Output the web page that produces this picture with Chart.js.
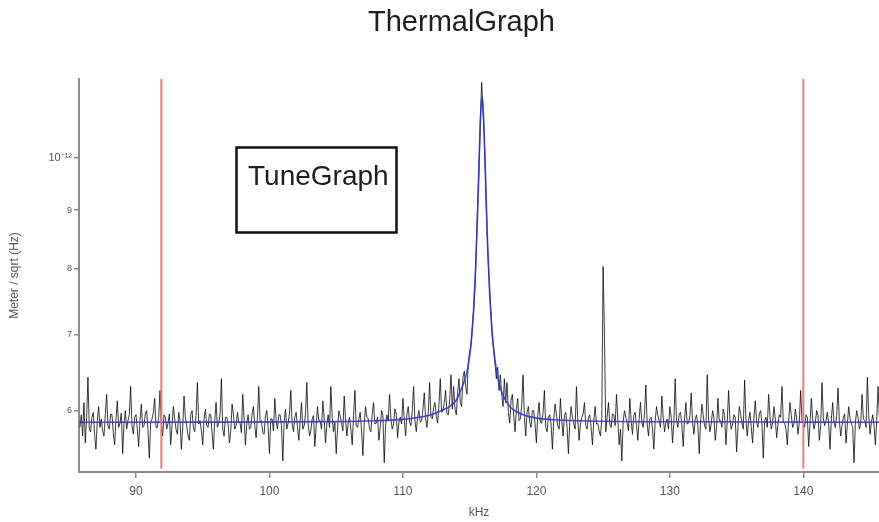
<!DOCTYPE html>
<html><head><meta charset="utf-8">
<script src="https://cdn.jsdelivr.net/npm/chart.js@4/dist/chart.umd.min.js"></script>
<style>html,body{margin:0;padding:0;background:#fff;}canvas{display:block;}</style>
</head><body>
<canvas id="c" width="879" height="522"></canvas>
<script>
const chartTitle = 'ThermalGraph';
const boxLabel = 'TuneGraph';
const xTitle = 'kHz';
const yTitle = 'Meter / sqrt (Hz)';
const xRange = [85.73, 145.67];
const yRange = [5.335e-13, 1.173e-12];
const xTickValues = [90, 100, 110, 120, 130, 140];
const yTickValues = [6e-13, 7e-13, 8e-13, 9e-13, 1e-12];
const yTickLabels = ['6', '7', '8', '9', '10\u207B\u00B9\u00B2'];
const markerFreqs = [91.9, 140];
const freqStart = 85.8, freqStep = 0.1;   // kHz grid of the measured spectrum
const unitScale = 1e-13;                  // values below are in units of 1e-13 m/sqrt(Hz)
const spectrumE13 = [
  5.80, 5.95, 5.70, 6.10, 5.62, 5.90, 6.42, 5.78, 5.75, 5.92, 5.98, 5.72, 5.55, 5.88, 6.05, 5.80, 5.90, 5.76, 5.70, 5.95,
  6.20, 5.82, 5.78, 5.96, 5.95, 5.74, 5.60, 5.90, 6.12, 5.80, 5.85, 5.97, 5.50, 5.84, 6.00, 5.78, 5.88, 5.95, 6.30, 5.82,
  5.72, 5.92, 5.95, 5.78, 5.58, 5.88, 6.08, 5.80, 5.82, 5.96, 6.00, 5.76, 5.45, 5.86, 5.90, 5.98, 6.15, 5.80, 5.80, 5.92,
  6.25, 5.84, 5.70, 5.95, 5.92, 5.78, 5.85, 5.96, 5.60, 5.82, 6.05, 5.90, 5.78, 5.72, 5.98, 5.88, 5.55, 5.80, 6.18, 5.92,
  5.82, 5.70, 5.65, 5.95, 6.00, 5.80, 5.75, 5.94, 6.35, 5.84, 5.88, 5.76, 5.60, 5.90, 6.02, 5.82, 5.80, 5.96, 5.95, 5.74,
  5.55, 5.88, 6.10, 5.80, 5.85, 5.96, 6.40, 5.78, 5.70, 5.92, 5.92, 5.84, 5.62, 5.76, 6.08, 5.95, 5.78, 5.82, 5.98, 5.86,
  5.85, 5.74, 6.20, 5.90, 5.60, 5.84, 5.95, 5.78, 5.80, 5.96, 6.05, 5.82, 5.68, 5.92, 6.30, 5.86, 5.88, 5.74, 5.72, 5.94,
  6.00, 5.80, 5.50, 5.90, 5.90, 5.76, 6.15, 5.88, 5.78, 5.95, 5.95, 5.82, 5.42, 5.86, 6.02, 5.78, 5.85, 5.96, 6.25, 5.84,
  5.75, 5.92, 5.98, 5.80, 5.65, 5.88, 6.10, 5.78, 5.82, 5.96, 6.35, 5.84, 5.70, 5.76, 5.90, 5.94, 5.58, 5.82, 6.05, 5.88,
  5.88, 5.78, 6.12, 5.90, 5.62, 5.84, 5.95, 5.80, 6.30, 5.92, 5.75, 5.86, 5.50, 5.78, 6.00, 5.94, 5.85, 5.76, 6.18, 5.90,
  5.70, 5.86, 5.92, 5.78, 5.60, 5.94, 6.25, 5.82, 5.80, 5.90, 5.98, 5.76, 5.48, 5.84, 6.05, 5.92, 5.90, 5.78, 5.75, 5.96,
  6.10, 5.84, 5.85, 5.92, 5.65, 5.80, 6.00, 5.94, 5.40, 5.82, 5.95, 5.88, 6.20, 5.90, 5.78, 5.84, 6.02, 5.96, 5.68, 5.86,
  5.92, 5.84, 6.15, 5.90, 5.70, 5.96, 6.05, 5.86, 5.82, 6.00, 6.30, 5.88, 5.75, 5.92, 6.00, 5.86, 5.88, 6.02, 6.22, 5.90,
  5.80, 5.98, 6.35, 5.92, 5.90, 6.04, 6.10, 5.94, 5.85, 6.08, 6.40, 5.98, 6.00, 6.10, 6.25, 5.96, 5.95, 6.12, 6.45, 6.02,
  6.30, 6.02, 5.95, 6.22, 6.40, 6.10, 6.05, 6.42, 6.50, 6.30, 6.20, 6.62, 6.75, 6.85, 7.10, 7.35, 7.70, 8.35, 9.10, 9.80,
  10.8, 11.65, 11.0, 10.4, 9.50, 8.65, 8.05, 7.65, 7.30, 6.95, 6.80, 6.60, 6.40, 6.55, 6.25, 6.45, 6.20, 6.05, 6.40, 6.10,
  6.35, 5.98, 5.85, 6.12, 6.20, 5.94, 5.75, 6.02, 6.15, 5.88, 5.90, 6.06, 6.45, 5.92, 5.70, 5.98, 6.05, 5.86, 5.80, 6.00,
  6.00, 5.84, 5.62, 5.94, 6.10, 5.86, 5.85, 5.98, 6.25, 5.80, 5.75, 5.92, 5.95, 5.84, 5.55, 5.90, 6.08, 5.96, 5.82, 5.78,
  6.15, 5.88, 5.70, 5.94, 5.98, 5.80, 5.50, 5.86, 6.05, 5.92, 5.85, 5.78, 6.30, 5.90, 5.65, 5.84, 5.92, 5.96, 6.10, 5.82,
  5.78, 5.92, 5.95, 5.80, 5.60, 5.88, 6.05, 5.84, 5.85, 5.76, 5.70, 5.90, 8.03, 7.00, 5.75, 5.92, 6.10, 5.84, 5.80, 5.96,
  5.95, 5.82, 6.20, 5.90, 5.60, 5.78, 5.42, 5.86, 6.00, 5.92, 5.85, 5.76, 6.15, 5.88, 5.72, 5.94, 5.98, 5.82, 5.65, 5.90,
  6.10, 5.86, 5.80, 5.96, 6.32, 5.84, 5.70, 5.90, 5.92, 5.78, 5.55, 5.88, 6.05, 5.94, 5.88, 5.80, 6.18, 5.92, 5.75, 5.86,
  5.90, 5.78, 6.05, 5.92, 5.62, 5.86, 6.40, 5.88, 5.80, 5.96, 5.98, 5.82, 5.58, 5.90, 6.10, 5.84, 5.85, 5.94, 6.22, 5.86,
  5.72, 5.90, 5.95, 5.82, 5.50, 5.86, 6.08, 5.94, 5.82, 5.78, 6.45, 5.90, 5.75, 5.84, 6.00, 5.92, 5.65, 5.80, 6.15, 5.88,
  5.88, 5.80, 6.02, 5.94, 5.60, 5.86, 6.25, 5.90, 5.78, 5.84, 5.95, 5.92, 5.52, 5.80, 6.05, 5.96, 5.85, 5.78, 6.38, 5.90,
  5.70, 5.88, 5.98, 5.80, 5.62, 5.92, 6.12, 5.86, 5.80, 5.96, 6.00, 5.84, 5.45, 5.88, 5.92, 5.80, 6.20, 5.94, 5.78, 5.86,
  6.05, 5.90, 5.68, 5.84, 5.95, 5.92, 6.30, 5.86, 5.85, 5.78, 5.60, 5.88, 6.10, 5.94, 5.80, 5.84, 6.02, 5.90, 5.72, 5.86,
  6.25, 5.88, 5.85, 5.80, 5.95, 5.92, 5.58, 5.84, 6.15, 5.90, 5.78, 5.86, 6.00, 5.94, 5.65, 5.82, 6.35, 5.90, 5.82, 5.88,
  5.98, 5.84, 5.55, 5.90, 6.10, 5.86, 5.80, 5.94, 6.28, 5.88, 5.70, 5.82, 5.92, 5.96, 5.62, 5.84, 6.05, 5.90, 5.85, 5.80,
  5.40, 5.86, 6.00, 5.92, 5.78, 5.84, 6.20, 5.90, 5.88, 5.80, 6.42, 5.94, 5.72, 5.86, 5.95, 5.82, 5.60, 5.88, 6.30, 5.92,
  5.85
];
const fitFreqs = [85.6, 95, 105, 108, 110, 111, 112, 113, 113.5, 114, 114.4, 114.7, 114.9, 115.1, 115.3, 115.45, 115.6, 115.7, 115.8, 115.87, 115.93, 116.0, 116.08, 116.15, 116.25, 116.35, 116.5, 116.7, 116.9, 117.2, 117.5, 118, 118.5, 119, 120, 122, 125, 130, 140, 146];
const fitE13 = [5.86, 5.862, 5.868, 5.878, 5.895, 5.915, 5.945, 6.01, 6.05, 6.13, 6.28, 6.42, 6.58, 6.86, 7.38, 8.02, 9.0, 9.86, 10.73, 11.17, 11.30, 11.12, 10.57, 9.95, 9.08, 8.36, 7.60, 6.99, 6.64, 6.34, 6.19, 6.05, 5.99, 5.95, 5.91, 5.885, 5.872, 5.866, 5.862, 5.86];

const FONT = '"Liberation Sans", Arial, Helvetica, sans-serif';
const spectrumPts = spectrumE13.map((v, i) => ({x: Math.round((freqStart + i * freqStep) * 100) / 100, y: v * unitScale}));
const fitPts = fitFreqs.map((f, i) => ({x: f, y: fitE13[i] * unitScale}));
const markerSets = markerFreqs.map(f => ({
  data: [{x: f, y: yRange[0]}, {x: f, y: yRange[1]}],
  borderColor: 'rgba(240,110,110,0.9)', borderWidth: 2, pointRadius: 0, order: 0
}));

const overlay = {
  id: 'overlay',
  afterDraw(chart) {
    const ctx = chart.ctx;
    ctx.save();
    ctx.fillStyle = '#1e1e1e';
    ctx.font = '29px ' + FONT;
    ctx.textAlign = 'center';
    ctx.textBaseline = 'alphabetic';
    ctx.fillText(chartTitle, 461.5, 31);
    ctx.fillStyle = '#fff';
    ctx.fillRect(236.5, 147.5, 160, 85);
    ctx.lineWidth = 2.5;
    ctx.strokeStyle = '#111';
    ctx.strokeRect(236.5, 147.5, 160, 85);
    ctx.fillStyle = '#1e1e1e';
    ctx.font = '28px ' + FONT;
    ctx.textAlign = 'left';
    ctx.fillText(boxLabel, 248, 185);
    ctx.restore();
  }
};

new Chart(document.getElementById('c'), {
  type: 'line',
  data: {
    datasets: [
      ...markerSets,
      {data: fitPts, borderColor: 'rgba(45,45,215,0.85)', borderWidth: 1.6, pointRadius: 0, cubicInterpolationMode: 'monotone', order: 1},
      {data: spectrumPts, borderColor: 'rgba(10,10,10,0.8)', borderWidth: 1, pointRadius: 0, tension: 0, order: 2}
    ]
  },
  options: {
    responsive: false,
    animation: false,
    events: [],
    layout: {padding: {top: 79, left: 0, right: 0, bottom: 0}},
    plugins: {legend: {display: false}, tooltip: {enabled: false}, title: {display: false}},
    scales: {
      x: {
        type: 'linear', min: xRange[0], max: xRange[1],
        afterBuildTicks: s => { s.ticks = xTickValues.map(v => ({value: v})); },
        afterFit: s => { s.height = 50; },
        grid: {display: true, drawOnChartArea: false, drawTicks: true, tickLength: 6, color: '#8a8a8a', lineWidth: 1.5},
        border: {display: true, color: '#8a8a8a', width: 2},
        ticks: {color: '#555', font: {size: 12, family: FONT}, padding: 6, maxRotation: 0, callback: v => String(v)},
        title: {display: true, text: xTitle, color: '#555', font: {size: 12, family: FONT}, padding: {top: 0, bottom: 2}}
      },
      y: {
        type: 'logarithmic', min: yRange[0], max: yRange[1],
        afterBuildTicks: s => { s.ticks = yTickValues.map(v => ({value: v})); },
        afterFit: s => { s.width = 79; },
        grid: {display: true, drawOnChartArea: false, drawTicks: true, tickLength: 5, color: '#8a8a8a', lineWidth: 1.5},
        border: {display: true, color: '#8a8a8a', width: 2},
        ticks: {
          color: '#555', padding: 2,
          font: ctx => ({size: (ctx.tick && ctx.tick.value === 1e-12) ? 11 : 9, family: FONT}),
          callback: v => { const i = yTickValues.indexOf(v); return i >= 0 ? yTickLabels[i] : ''; }
        },
        title: {display: true, text: yTitle, color: '#555', font: {size: 12, family: FONT}, padding: {top: 7, bottom: 0}}
      }
    }
  },
  plugins: [overlay]
});
</script>
</body></html>
